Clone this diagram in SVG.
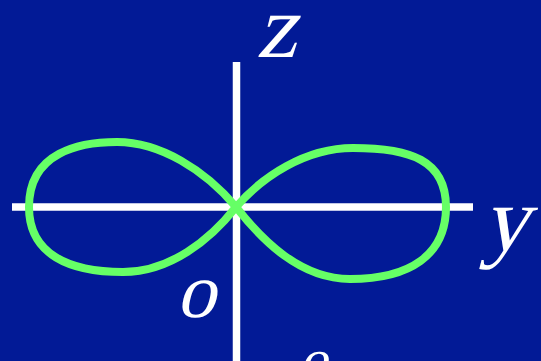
<svg xmlns="http://www.w3.org/2000/svg" width="541" height="361" viewBox="0 0 541 361">
<style>
.axis{stroke:#ffffff;stroke-width:7.5;fill:none}
.curve{stroke:#66ff66;stroke-width:8;fill:none;stroke-linejoin:round}
.lbl{fill:#ffffff;font-family:"Liberation Serif","Times New Roman",serif}
</style>
<rect x="0" y="0" width="541" height="361" fill="#021a96"/>
<g id="connectors">
<line class="axis" x1="12" y1="207" x2="473" y2="207"/>
<line class="axis" x1="236.5" y1="62" x2="236.5" y2="361"/>
</g>
<g id="curve">
<path class="curve" d="M236,207 C205,170 160,142 117,142 C80,142 29,152 29,207 C29,255 70,272 123,272 C170,272 210,240 236,207 Z"/>
<path class="curve" d="M236,207 C262,177 305,148 353,148 C410,148 446,160 446,207 C446,255 410,279 350,279 C300,279 262,240 236,207 Z"/>
</g>
<g id="labels">
<text class="lbl" font-size="90" transform="translate(256,57) skewX(-14)">z</text>
<text class="lbl" font-size="92" transform="translate(482,250) skewX(-14)">y</text>
<text class="lbl" font-size="78" transform="translate(176,317) skewX(-14)">o</text>
<text class="lbl" font-size="56" transform="translate(299,378) skewX(-14)">o</text>
</g>
</svg>
